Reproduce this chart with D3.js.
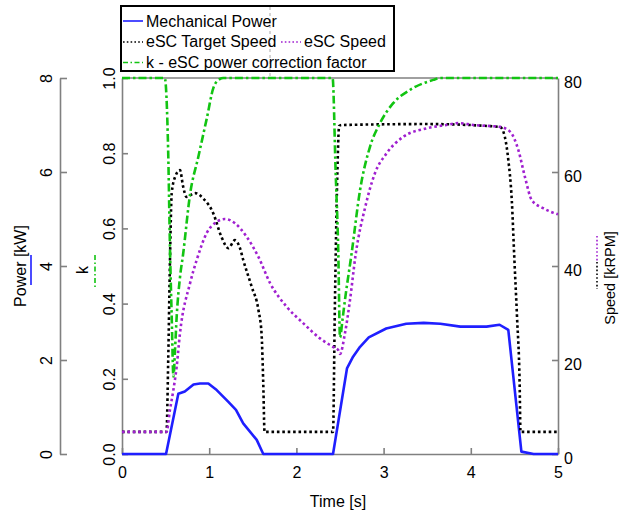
<!DOCTYPE html>
<html>
<head>
<meta charset="utf-8">
<script src="https://cdn.jsdelivr.net/npm/d3@7"></script>
<style>
  html, body { margin: 0; padding: 0; background: #fff; }
  svg { display: block; font-family: "Liberation Sans", Arial, sans-serif; }
</style>
</head>
<body>
<svg id="chart" width="620" height="514"></svg>
<script>
// ---------------- DATA ----------------
const timeTicks = [0, 1, 2, 3, 4, 5];
const powerTicks = [0, 2, 4, 6, 8];
const kTicks = [0, 0.2, 0.4, 0.6, 0.8, 1.0];
const speedTicks = [0, 20, 40, 60, 80];

const timePower = [0, 0.505, 0.646, 0.72, 0.82, 0.894, 0.99, 1.086, 1.22, 1.307, 1.39, 1.545, 1.62,
  2.42, 2.58, 2.65, 2.73, 2.83, 3.03, 3.26, 3.46, 3.65, 3.88, 4.18, 4.33, 4.43, 4.58, 4.72, 5.0];
const mechPower = [0, 0, 1.28, 1.33, 1.48, 1.50, 1.50, 1.36, 1.11, 0.94, 0.65, 0.30, 0,
  0, 1.82, 2.07, 2.28, 2.48, 2.67, 2.77, 2.79, 2.77, 2.71, 2.71, 2.75, 2.64, 0.05, 0, 0];

const timeTarget = [0, 0.51, 0.53, 0.55, 0.57, 0.61, 0.665, 0.70, 0.74, 0.84, 0.93, 1.047, 1.14, 1.22,
  1.296, 1.353, 1.39, 1.487, 1.565, 1.60, 1.62, 1.635, 2.42, 2.44, 2.47, 2.49, 2.52, 3.5, 4.335, 4.39,
  4.43, 4.47, 4.5, 4.53, 4.56, 4.57, 5.0];
const targetSpeed = [4.7, 4.7, 20, 41, 55.5, 59, 60.4, 57, 54.7, 55.5, 54.4, 51.2, 46.2, 43.8,
  45.5, 43.8, 41.3, 35.6, 30.6, 25.7, 15, 4.7, 4.7, 30, 60, 69.8, 70, 70.2, 69.6, 67.5,
  62.6, 54, 41.3, 29.2, 15, 4.7, 4.7];

const timeSpeed = [0, 0.51, 0.55, 0.589, 0.627, 0.665, 0.78, 0.857, 0.971, 1.086, 1.18, 1.296, 1.43,
  1.563, 1.70, 1.89, 2.08, 2.27, 2.42, 2.48, 2.50, 2.557, 2.615, 2.68, 2.79, 2.90, 3.035, 3.226, 3.495,
  3.72, 3.86, 4.03, 4.335, 4.45, 4.545, 4.62, 4.70, 4.83, 5.0];
const escSpeed = [4.7, 4.7, 9.4, 13.6, 18.6, 25.7, 36.3, 41.3, 47, 49.4, 50, 49.1, 46.2,
  42, 36.3, 31.3, 27.8, 24.6, 22.8, 22.1, 21.3, 25.7, 32.8, 42.5, 52.6, 59.7, 64, 67.5, 69.3,
  70, 70.4, 70, 69.6, 68.6, 64.7, 59, 54, 52.3, 51];

const timeK = [0, 0.49, 0.53, 0.55, 0.57, 0.59, 0.608, 0.627, 0.665, 0.70, 0.78, 0.875, 0.97, 1.05,
  1.12, 1.16, 2.415, 2.45, 2.48, 2.50, 2.53, 2.557, 2.634, 2.73, 2.844, 2.959, 3.11, 3.30, 3.57, 3.65, 5.0];
const kFactor = [1, 1, 0.8, 0.55, 0.365, 0.206, 0.277, 0.365, 0.47, 0.53, 0.69, 0.79, 0.89, 0.975,
  0.997, 1, 1, 0.75, 0.54, 0.31, 0.36, 0.41, 0.535, 0.702, 0.817, 0.88, 0.933, 0.968, 0.995, 1, 1];

const legendLabels = ["Mechanical Power", "eSC Target Speed", "eSC Speed", "k - eSC power correction factor"];

// ---------------- STYLE ----------------
const C = { power: "#1f1fff", target: "#000000", speed: "#a020d0", k: "#12c412", axis: "#808080" };

const svg = d3.select("#chart");
const x = d3.scaleLinear().domain([0, 5]).range([122, 558]);
const yK = d3.scaleLinear().domain([0, 1]).range([454, 78]);
const yP = d3.scaleLinear().domain([0, 8]).range([454, 78]);
const yS = d3.scaleLinear().domain([0, 80]).range([454, 78]);

function styleAxis(g) {
  g.selectAll("path, line").attr("stroke", C.axis).attr("stroke-width", 1.6);
  g.selectAll("text").attr("fill", "#000").attr("font-size", 16)
    .attr("font-family", "'Liberation Sans', Arial, sans-serif");
}

// top frame
svg.append("line").attr("x1", x(0)).attr("x2", x(5)).attr("y1", yK(1)).attr("y2", yK(1))
  .attr("stroke", C.axis).attr("stroke-width", 1.6);

// bottom axis
const gx = svg.append("g").attr("transform", `translate(0,${yK(0)})`)
  .call(d3.axisBottom(x).tickValues(timeTicks).tickFormat(d3.format("d"))
    .tickSizeInner(-6).tickSizeOuter(0).tickPadding(13));
styleAxis(gx);

// k axis (plot left)
const gk = svg.append("g").attr("transform", `translate(${x(0)},0)`)
  .call(d3.axisLeft(yK).tickValues(kTicks).tickFormat(d3.format(".1f"))
    .tickSizeInner(-6).tickSizeOuter(0));
styleAxis(gk);
gk.selectAll(".tick text").attr("x", null).attr("dy", null)
  .attr("text-anchor", "middle").attr("transform", "translate(-7,0) rotate(-90)");

// power axis (outer left)
const gp = svg.append("g").attr("transform", "translate(60,0)")
  .call(d3.axisLeft(yP).tickValues(powerTicks).tickFormat(d3.format("d"))
    .tickSizeInner(-7).tickSizeOuter(0));
styleAxis(gp);
gp.selectAll(".tick text").attr("x", null).attr("dy", null)
  .attr("text-anchor", "middle").attr("transform", "translate(-8,0) rotate(-90)");

// speed axis (right)
const gs = svg.append("g").attr("transform", `translate(${x(5)},0)`)
  .call(d3.axisRight(yS).tickValues(speedTicks).tickFormat(d3.format("d"))
    .tickSizeInner(-6).tickSizeOuter(0).tickPadding(6));
styleAxis(gs);
gs.selectAll(".tick text").attr("dy", "0.57em");

// ---------------- SERIES ----------------
const lineP = d3.line().x(d => x(d[0])).y(d => yP(d[1]));
const lineS = d3.line().x(d => x(d[0])).y(d => yS(d[1])).curve(d3.curveMonotoneX);
const lineK = d3.line().x(d => x(d[0])).y(d => yK(d[1])).curve(d3.curveMonotoneX);

svg.append("path").datum(d3.zip(timePower, mechPower)).attr("d", lineP)
  .attr("fill", "none").attr("stroke", C.power).attr("stroke-width", 2.6)
  .attr("stroke-linejoin", "round");
svg.append("path").datum(d3.zip(timeTarget, targetSpeed)).attr("d", lineS)
  .attr("fill", "none").attr("stroke", C.target).attr("stroke-width", 2.6)
  .attr("stroke-dasharray", "2.6,2.8");
svg.append("path").datum(d3.zip(timeSpeed, escSpeed)).attr("d", lineS)
  .attr("fill", "none").attr("stroke", C.speed).attr("stroke-width", 2.6)
  .attr("stroke-dasharray", "2.6,2.8");
svg.append("path").datum(d3.zip(timeK, kFactor)).attr("d", lineK)
  .attr("fill", "none").attr("stroke", C.k).attr("stroke-width", 2.6)
  .attr("stroke-dasharray", "8,3,2.5,3");

// ---------------- AXIS TITLES ----------------
svg.append("text").attr("transform", "translate(26,266) rotate(-90)").attr("text-anchor", "middle")
  .attr("font-size", 16).text("Power [kW]");
svg.append("line").attr("x1", 31).attr("x2", 31).attr("y1", 255).attr("y2", 285)
  .attr("stroke", C.power).attr("stroke-width", 1.6);
svg.append("text").attr("transform", "translate(88,270) rotate(-90)").attr("text-anchor", "middle")
  .attr("font-size", 16).text("k");
svg.append("line").attr("x1", 95).attr("x2", 95).attr("y1", 255).attr("y2", 287)
  .attr("stroke", C.k).attr("stroke-width", 1.6).attr("stroke-dasharray", "5,2.5,1.5,2.5");
svg.append("text").attr("transform", "translate(615,278) rotate(-90)").attr("text-anchor", "middle")
  .attr("font-size", 14.5).text("Speed [kRPM]");
svg.append("line").attr("x1", 597).attr("x2", 597).attr("y1", 236).attr("y2", 262)
  .attr("stroke", C.speed).attr("stroke-width", 1.6).attr("stroke-dasharray", "1.6,2.2");
svg.append("line").attr("x1", 597).attr("x2", 597).attr("y1", 262).attr("y2", 289)
  .attr("stroke", C.target).attr("stroke-width", 1.6).attr("stroke-dasharray", "1.6,2.2");
svg.append("text").attr("x", 338).attr("y", 507).attr("text-anchor", "middle")
  .attr("font-size", 16).text("Time [s]");

// ---------------- LEGEND ----------------
const lg = svg.append("g");
lg.append("rect").attr("x", 121).attr("y", 6).attr("width", 273).attr("height", 65)
  .attr("fill", "#fff").attr("stroke", "#000").attr("stroke-width", 2);
lg.append("line").attr("x1", 270).attr("x2", 270).attr("y1", 7).attr("y2", 77)
  .attr("stroke", "#aaa").attr("stroke-width", 1).attr("stroke-dasharray", "3,3");
const legendItems = [
  { label: legendLabels[0], color: C.power, dash: null, lx: 123, ly: 21, ty: 26.5 },
  { label: legendLabels[1], color: C.target, dash: "1.6,2.2", lx: 123, ly: 42, ty: 47 },
  { label: legendLabels[2], color: C.speed, dash: "1.6,2.2", lx: 281, ly: 42, ty: 47 },
  { label: legendLabels[3], color: C.k, dash: "5,2.5,1.5,2.5", lx: 123, ly: 62.5, ty: 67.5 }
];
legendItems.forEach(it => {
  lg.append("line").attr("x1", it.lx).attr("x2", it.lx + 20).attr("y1", it.ly).attr("y2", it.ly)
    .attr("stroke", it.color).attr("stroke-width", 1.6).attr("stroke-dasharray", it.dash);
  lg.append("text").attr("x", it.lx + 23).attr("y", it.ty).attr("font-size", 16).text(it.label);
});
</script>
</body>
</html>
